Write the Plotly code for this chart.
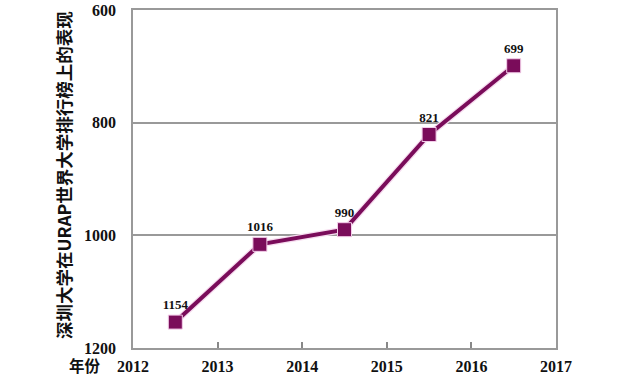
import plotly.graph_objects as go

years = [2012.5, 2013.5, 2014.5, 2015.5, 2016.5]
ranks = [1154, 1016, 990, 821, 699]
labels = ["1154", "1016", "990", "821", "699"]
x_ticks = [2012, 2013, 2014, 2015, 2016, 2017]
y_ticks = [600, 800, 1000, 1200]

line_color = "#7a0c5a"
num_font = "Liberation Serif"

fig = go.Figure()
# soft pink halo under the line
fig.add_trace(go.Scatter(
    x=years, y=ranks, mode="lines",
    line=dict(color="#f6dcef", width=6.5),
    hoverinfo="skip", showlegend=False))
fig.add_trace(go.Scatter(
    x=years, y=ranks, mode="lines+markers+text",
    line=dict(color=line_color, width=4),
    marker=dict(symbol="square", size=14, color=line_color,
                line=dict(color="#f3cde9", width=1)),
    text=labels, textposition="top center",
    textfont=dict(family=num_font, size=13, color="#111111", weight="bold"),
    showlegend=False))

fig.update_layout(
    width=640, height=377,
    margin=dict(l=133, r=84, t=10, b=29, autoexpand=False),
    paper_bgcolor="white", plot_bgcolor="white",
    xaxis=dict(
        range=[2012, 2017], tickvals=x_ticks, ticktext=[str(v) for v in x_ticks],
        showgrid=False, zeroline=False, automargin=False,
        ticks="inside", ticklen=6, tickwidth=2, tickcolor="#888888",
        showline=True, linecolor="#999999", linewidth=1.5, mirror=True,
        ticklabelstandoff=3,
        tickfont=dict(family=num_font, size=16, color="#111111", weight="bold"),
    ),
    yaxis=dict(
        range=[1200, 600], tickvals=y_ticks, automargin=False,
        showgrid=True, gridcolor="#999999", gridwidth=1.5, zeroline=False,
        showline=True, linecolor="#999999", linewidth=1.5, mirror=True,
        ticks="", ticklabelstandoff=12,
        tickfont=dict(family=num_font, size=16, color="#111111", weight="bold"),
    ),
    annotations=[
        dict(text="深圳大学在URAP世界大学排行榜上的表现", textangle=-90,
             xref="paper", yref="paper", x=(63 - 133) / 423, y=(348 - 175) / 338,
             xanchor="center", yanchor="middle", showarrow=False,
             font=dict(family="Noto Sans CJK SC", size=17.5, color="#111111", weight="bold")),
        dict(text="年份", xref="paper", yref="paper",
             x=(85 - 133) / 423, y=-(365 - 348) / 338,
             xanchor="center", yanchor="middle", showarrow=False, borderpad=0,
             font=dict(family="Noto Sans CJK SC", size=15.5, color="#111111", weight="bold")),
    ],
)

fig.write_html("out.html")
